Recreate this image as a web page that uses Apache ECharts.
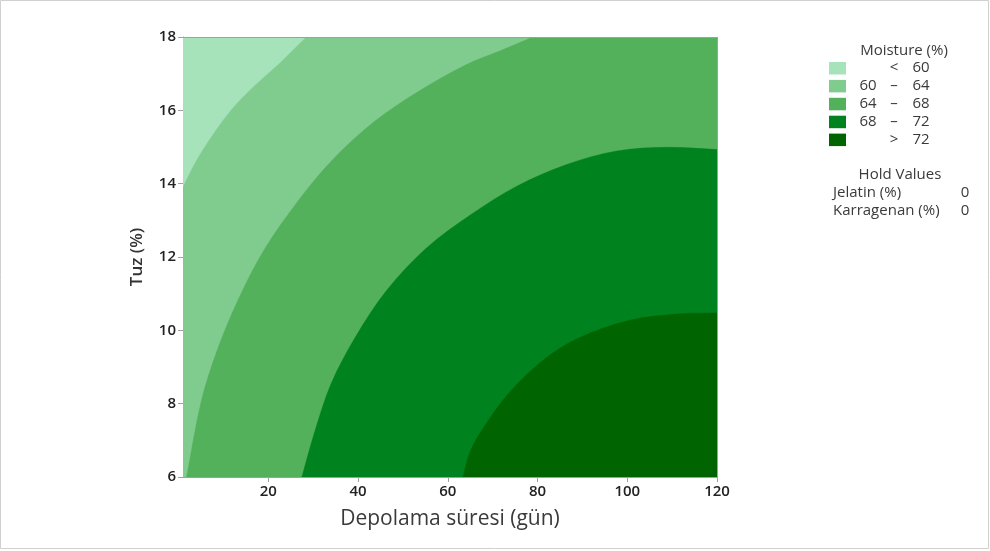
<!DOCTYPE html>
<html><head><meta charset="utf-8">
<script src="https://cdn.jsdelivr.net/npm/echarts@6/dist/echarts.min.js"></script>
<style>html,body{margin:0;padding:0;background:#fff}#c{width:990px;height:551px}</style>
</head><body><div id="c"></div>
<script>
// Contour boundaries: [Depolama süresi, Tuz]
const contour60 = [[28.5,18],[22.5,17.28],[16.8,16.65],[11.7,16],[6.4,15.1],[3.2,14.45],[1,13.9]];
const contour64 = [[79.0,18],[71.6,17.62],[64.2,17.25],[53.0,16.48],[43.3,15.66],[34.4,14.66],[26.9,13.57],[19.0,12.18],[13.2,10.81],[8.6,9.45],[5.1,8.08],[1.8,6]];
const contour68 = [[120,14.93],[108.9,14.99],[97.7,14.89],[86.5,14.52],[75.4,13.93],[65.7,13.2],[55.2,12.24],[46.4,11.09],[39.4,9.81],[34.0,8.54],[30.2,7.17],[27.5,6]];
const contour72 = [[120,10.47],[111.9,10.45],[100.4,10.27],[88.8,9.77],[81.1,9.17],[73.4,8.26],[68.0,7.35],[65.0,6.7],[63.4,6]];

const levelLabels = [['', '<', '60'], ['60', '–', '64'], ['64', '–', '68'], ['68', '–', '72'], ['', '>', '72']];
const levelColors = ['#a6e3bb', '#80cc8e', '#53b05b', '#00821f', '#006400'];
const holdNames = ['Jelatin (%)', 'Karragenan (%)'];
const holdValues = [0, 0];
const xTicks = [20, 40, 60, 80, 100, 120];
const xMin = 1, xMax = 120, yMin = 6, yMax = 18;

// Each region: smooth contour curve + straight plot-corner points
const regions = [
  {curve: [], corners: [[xMin,yMin],[xMax,yMin],[xMax,yMax],[xMin,yMax]]},
  {curve: contour60, corners: [[xMin,yMin],[xMax,yMin],[xMax,yMax]]},
  {curve: contour64, corners: [[xMax,yMin],[xMax,yMax]]},
  {curve: contour68, corners: [[xMax,yMin]]},
  {curve: contour72, corners: [[xMax,yMin]]}
];

function unit(a, b) {
  const dx = b[0] - a[0], dy = b[1] - a[1];
  const l = Math.hypot(dx, dy) || 1;
  return [dx / l, dy / l];
}
function buildPath(curvePx, cornerPx) {
  let d = '';
  const n = curvePx.length;
  if (n > 0) {
    d += 'M' + curvePx[0][0] + ' ' + curvePx[0][1];
    for (let i = 0; i < n - 1; i++) {
      const p0 = curvePx[Math.max(i - 1, 0)], p1 = curvePx[i], p2 = curvePx[i + 1], p3 = curvePx[Math.min(i + 2, n - 1)];
      const len = Math.hypot(p2[0] - p1[0], p2[1] - p1[1]) / 3;
      const t1 = unit(p0, p2), t2 = unit(p1, p3);
      const c1 = [p1[0] + t1[0] * len, p1[1] + t1[1] * len];
      const c2 = [p2[0] - t2[0] * len, p2[1] - t2[1] * len];
      d += 'C' + c1[0] + ' ' + c1[1] + ' ' + c2[0] + ' ' + c2[1] + ' ' + p2[0] + ' ' + p2[1];
    }
    cornerPx.forEach(p => { d += 'L' + p[0] + ' ' + p[1]; });
  } else {
    cornerPx.forEach((p, i) => { d += (i ? 'L' : 'M') + p[0] + ' ' + p[1]; });
  }
  return d + 'Z';
}

const chart = echarts.init(document.getElementById('c'));
const font = 'Open Sans';
const lf = '15px "Open Sans"';

const graphics = [{type:'rect', shape:{x:0.5,y:0.5,width:988,height:548}, style:{fill:'none',stroke:'#d0d0d0',lineWidth:1}, silent:true}];
graphics.push({type:'text', x:904, y:51, style:{text:'Moisture (%)', font:lf, fill:'#3a3a3a', align:'center', verticalAlign:'middle'}});
levelLabels.forEach((l, i) => {
  const y = 68 + i * 17.9;
  graphics.push({type:'rect', shape:{x:829,y:y-6,width:17,height:12.5}, style:{fill:levelColors[i]}});
  if (l[0]) graphics.push({type:'text', x:868, y:y, style:{text:l[0], font:lf, fill:'#3a3a3a', align:'center', verticalAlign:'middle'}});
  graphics.push({type:'text', x:894, y:y, style:{text:l[1], font:lf, fill:'#3a3a3a', align:'center', verticalAlign:'middle'}});
  graphics.push({type:'text', x:921, y:y, style:{text:l[2], font:lf, fill:'#3a3a3a', align:'center', verticalAlign:'middle'}});
});
graphics.push({type:'text', x:900, y:175, style:{text:'Hold Values', font:lf, fill:'#3a3a3a', align:'center', verticalAlign:'middle'}});
holdNames.forEach((n, i) => {
  const y = 193 + i * 18;
  graphics.push({type:'text', x:833, y:y, style:{text:n, font:lf, fill:'#3a3a3a', align:'left', verticalAlign:'middle'}});
  graphics.push({type:'text', x:965, y:y, style:{text:String(holdValues[i]), font:lf, fill:'#3a3a3a', align:'center', verticalAlign:'middle'}});
});

chart.setOption({
  animation: false,
  backgroundColor: '#fff',
  grid: {left:183, right:273, top:37, bottom:74},
  xAxis: {
    type:'value', min:xMin, max:xMax,
    name:'Depolama süresi (gün)', nameLocation:'middle', nameGap:32,
    nameTextStyle:{fontFamily:font, fontSize:21, color:'#3a3a3a', fontWeight:500},
    axisLine:{show:true, lineStyle:{color:'#a0a0a0'}},
    axisTick:{show:true, length:5, lineStyle:{color:'#a0a0a0'}, customValues:xTicks},
    axisLabel:{fontFamily:font, fontSize:15, color:'#222', fontWeight:600, margin:7, customValues:xTicks},
    splitLine:{show:false}
  },
  yAxis: {
    type:'value', min:yMin, max:yMax, interval:2,
    name:'Tuz (%)', nameLocation:'middle', nameGap:37,
    nameTextStyle:{fontFamily:font, fontSize:17, color:'#333', fontWeight:600},
    axisLine:{show:true, lineStyle:{color:'#a0a0a0'}},
    axisTick:{show:true, length:5, lineStyle:{color:'#a0a0a0'}},
    axisLabel:{fontFamily:font, fontSize:15, color:'#222', fontWeight:600, margin:7},
    splitLine:{show:false}
  },
  graphic: graphics,
  series: [{
    type:'custom',
    coordinateSystem:'cartesian2d',
    clip:true,
    data: regions.map((r, i) => [i]),
    renderItem: function(params, api) {
      const idx = params.dataIndex;
      const r = regions[idx];
      const cpx = r.curve.map(p => api.coord(p));
      const kpx = r.corners.map(p => api.coord(p));
      return {type:'path', shape:{pathData: buildPath(cpx, kpx)}, style:{fill:levelColors[idx], stroke:levelColors[idx], lineWidth:0.5}};
    },
    z: 1
  }, {
    type:'line', data:[], markLine:{silent:true, symbol:'none', label:{show:false}, lineStyle:{color:'#a0a0a0', type:'solid', width:1},
      data:[[{coord:[xMin,yMax]},{coord:[xMax,yMax]}],[{coord:[xMax,yMin]},{coord:[xMax,yMax]}]]}
  }]
});
</script></body></html>
